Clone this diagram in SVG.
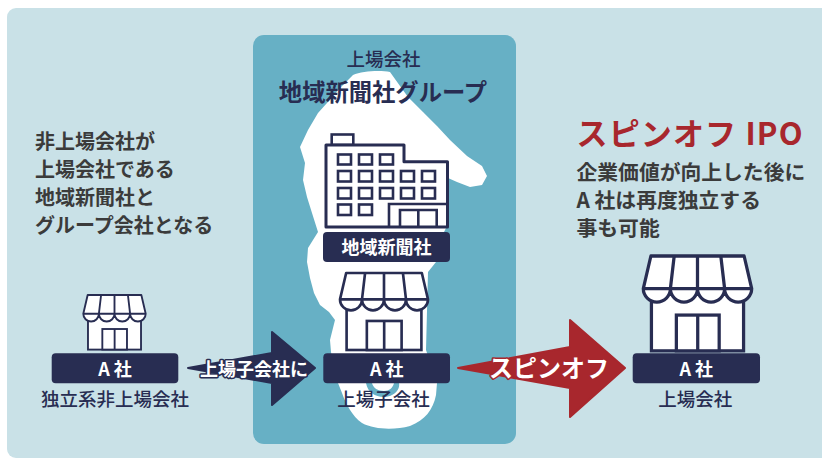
<svg xmlns="http://www.w3.org/2000/svg" xmlns:xlink="http://www.w3.org/1999/xlink" width="822" height="459" viewBox="0 0 822 459">
  <style>
    .jp { font-family: "Noto Sans CJK JP", "Noto Sans", sans-serif; }
    .body { font-size: 20px; font-weight: 700; fill: #3b3b3b; }
    .body-r { font-size: 20.8px; font-weight: 700; fill: #3b3b3b; }
    .navy-t { font-size: 18.5px; font-weight: 500; fill: #282d52; text-anchor: middle; }
    .tag { fill: #282d52; }
    .tag-t { font-size: 18px; font-weight: 700; fill: #ffffff; text-anchor: middle; }
    .line { fill: #ffffff; stroke: #282d52; stroke-width: 3; stroke-linejoin: round; }
    .win { fill: #ffffff; stroke: #282d52; stroke-width: 2.6; }
  </style>
  <defs>
    <!-- storefront icon, 100 units wide -->
    <g id="store">
      <rect x="7.5" y="28" width="85" height="59.5" fill="#ffffff" stroke="#282d52" stroke-width="3"/>
      <rect x="30.5" y="54.5" width="39.5" height="33" fill="#ffffff" stroke="#282d52" stroke-width="3"/>
      <line x1="50.2" y1="54.5" x2="50.2" y2="87.5" stroke="#282d52" stroke-width="3"/>
      <path class="line" d="M7,0 H93 L100,30 A12.5,12.5 0 0 1 75,30 A12.5,12.5 0 0 1 50,30 A12.5,12.5 0 0 1 25,30 A12.5,12.5 0 0 1 0,30 Z"/>
      <path d="M0,30 H100 M28.5,0 L25,30 M50,0 L50,30 M71.5,0 L75,30" fill="none" stroke="#282d52" stroke-width="3"/>
    </g>
  </defs>

  <!-- backdrop -->
  <rect x="7" y="8" width="830" height="450" rx="9" fill="#c9e1e7"/>

  <!-- listed group panel -->
  <g id="group-panel">
    <rect x="253" y="35" width="263" height="409" rx="11" fill="#67b0c5"/>
    <path fill="#ffffff" d="M353,75 C362,71 380,70 390,72 L400,86 L408,97 L423,112 L437,126 L450,140 L467,156 L482,166 L487,176 L482,185 L470,187 L457,182 L448,178 L446,228 L440,240 L436,262 L428,272 L426,350 L437,383 L436,395 C433,410 425,420 410,426 C395,430 375,430 362,423 C352,416 346,404 342,393 L336,378 L331,352 L330,340 L335,320 L329,312 L320,305 L314,293 L310,278 L307,262 L308,248 L318,232 L312,213 L307,197 L303,180 L305,163 L300,147 L308,130 L318,113 L327,103 L340,88 Z"/>
    <path fill="#67b0c5" d="M366,383 C368,395 380,399 390,396 C397,393 400,388 399,383 L394,383 C393,388 389,391 384,391 C378,391 373,388 372,383 Z"/>
    <text class="jp navy-t" x="383.5" y="66">上場会社</text>
    <text class="jp" x="383" y="101" font-size="23.3" font-weight="700" fill="#282d52" text-anchor="middle">地域新聞社グループ</text>
  </g>

  <!-- regional newspaper (parent) -->
  <g id="newspaper">
    <rect x="331.7" y="134.5" width="21.6" height="10.5" class="win"/>
    <path class="line" d="M326,145 H404 V161.7 H447.5 V227 H326 Z"/>
    <g class="win">
      <rect x="338" y="154.5" width="13" height="10"/>
      <rect x="359" y="154.5" width="13" height="10"/>
      <rect x="380" y="154.5" width="13" height="10"/>
      <rect x="338" y="171" width="13" height="10.5"/>
      <rect x="359" y="171" width="13" height="10.5"/>
      <rect x="380" y="171" width="13" height="10.5"/>
      <rect x="401" y="171" width="13" height="10.5"/>
      <rect x="422" y="171" width="13" height="10.5"/>
      <rect x="338" y="188" width="13" height="10.5"/>
      <rect x="359" y="188" width="13" height="10.5"/>
      <rect x="380" y="188" width="13" height="10.5"/>
      <rect x="401" y="188" width="13" height="10.5"/>
      <rect x="422" y="188" width="13" height="10.5"/>
      <rect x="338" y="204.5" width="13" height="10.5"/>
      <rect x="359" y="204.5" width="13" height="10.5"/>
    </g>
    <path d="M389,227 V204 H447.5 M400,227 V210 H436.7 V227 M418.3,210 V227" fill="none" stroke="#282d52" stroke-width="2.6"/>
    <rect class="tag" x="323" y="232" width="127" height="30" rx="4"/>
    <text class="jp tag-t" x="386.5" y="254" font-size="18.7">地域新聞社</text>
  </g>

  <!-- company A, independent -->
  <g id="company-a-independent">
    <use xlink:href="#store" href="#store" transform="translate(83.3,295) scale(0.624)"/>
    <rect class="tag" x="51.7" y="353.3" width="126.6" height="30" rx="4"/>
    <text class="jp tag-t" x="115" y="375.5">A 社</text>
    <text class="jp navy-t" x="115" y="406" font-size="18.7">独立系非上場会社</text>
  </g>

  <!-- company A, listed subsidiary -->
  <g id="company-a-subsidiary">
    <use xlink:href="#store" href="#store" transform="translate(340,273) scale(0.88)"/>
    <rect class="tag" x="323.3" y="353.3" width="126.7" height="30" rx="4"/>
    <text class="jp tag-t" x="386.7" y="375.5">A 社</text>
    <text class="jp navy-t" x="383.5" y="406" font-size="18.6">上場子会社</text>
  </g>

  <!-- company A, listed -->
  <g id="company-a-listed">
    <use xlink:href="#store" href="#store" transform="translate(643.3,256) scale(1.084)"/>
    <rect class="tag" x="632.7" y="353.3" width="127.3" height="30" rx="4"/>
    <text class="jp tag-t" x="696.3" y="375.5">A 社</text>
    <text class="jp navy-t" x="695.3" y="406" font-size="18.7">上場会社</text>
  </g>

  <!-- connectors -->
  <g id="connectors">
    <path d="M188,368 L272,353 L272,332 L315,368 L272,405 L272,383 Z" fill="#282d52" stroke="#282d52" stroke-width="2" stroke-linejoin="round"/>
    <text class="jp" x="254" y="376" font-size="18" font-weight="700" fill="#ffffff" stroke="#282d52" stroke-width="3" paint-order="stroke" stroke-linejoin="round" text-anchor="middle">上場子会社に</text>
    <path d="M458,368 L570,347 L570,320 L625,368 L570,417 L570,388 Z" fill="#a8272d" stroke="#a8272d" stroke-width="2" stroke-linejoin="round"/>
    <text class="jp" x="549" y="377" font-size="24" font-weight="700" fill="#ffffff" stroke="#a8272d" stroke-width="3" paint-order="stroke" stroke-linejoin="round" text-anchor="middle">スピンオフ</text>
  </g>

  <!-- left note -->
  <g id="note-left" class="jp body">
    <text x="35" y="148.5">非上場会社が</text>
    <text x="35" y="176.5">上場会社である</text>
    <text x="35" y="204.5">地域新聞社と</text>
    <text x="35" y="232.5">グループ会社となる</text>
  </g>

  <!-- right note -->
  <g id="note-right" class="jp">
    <text x="576.5" y="145" font-size="31" font-weight="700" fill="#a8272d" textLength="226" lengthAdjust="spacing">スピンオフ IPO</text>
    <text class="body-r" x="576.5" y="180">企業価値が向上した後に</text>
    <text class="body-r" x="576.5" y="208">A 社は再度独立する</text>
    <text class="body-r" x="576.5" y="236">事も可能</text>
  </g>
</svg>
